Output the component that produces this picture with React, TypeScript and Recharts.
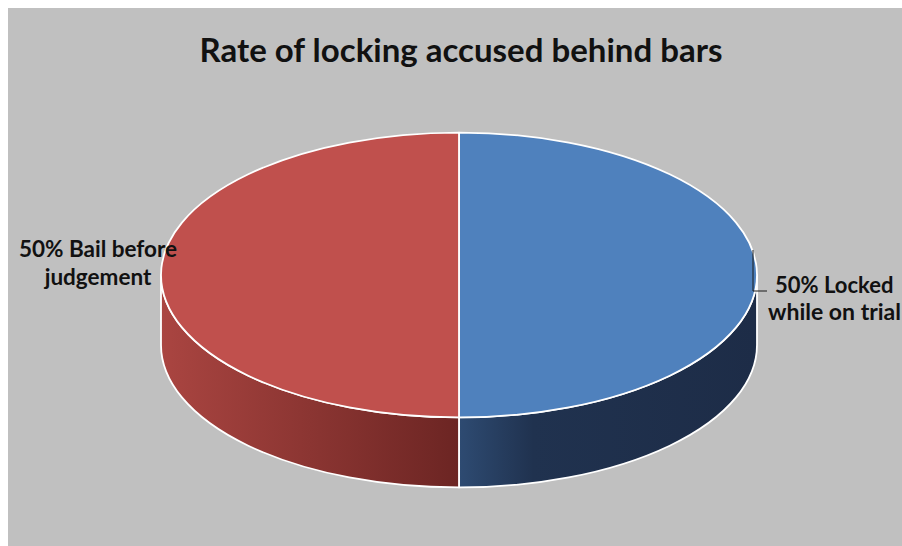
import React from 'react';
import { PieChart, Pie, Cell } from 'recharts';

const categories = ['Locked while on trial', 'Bail before judgement'];
const shares = [50, 50];
const labelLines = [
  ['50% Locked', 'while on trial'],
  ['50% Bail before', 'judgement'],
];
const topColors = ['#4f81bd', '#c0504d'];
const sideGradients = ['url(#blueSide)', 'url(#redSide)'];

const data = categories.map((name, i) => ({ name, value: shares[i], lines: labelLines[i], side: sideGradients[i] }));

const TILT = 0.478; // ry / rx
const DEPTH = 70;
const RAD = Math.PI / 180;

const pt = (cx: number, cy: number, rx: number, ry: number, a: number) => [
  cx + rx * Math.cos(a * RAD),
  cy - ry * Math.sin(a * RAD),
];

// elliptical 3D sector: side wall + top face
const Sector3D = (props: any) => {
  const { cx, cy, outerRadius, startAngle, endAngle, fill, payload } = props;
  const rx = outerRadius;
  const ry = outerRadius * TILT;
  const hiA = Math.max(startAngle, endAngle);
  const loA = Math.min(startAngle, endAngle);

  // front wall is visible for angles in [-180, 0]
  const hi = Math.min(hiA, 0);
  const lo = Math.max(loA, -180);
  let side = null;
  if (hi > lo) {
    const [x1, y1] = pt(cx, cy, rx, ry, hi);
    const [x2, y2] = pt(cx, cy, rx, ry, lo);
    const d = `M${x1},${y1} A${rx},${ry} 0 0 1 ${x2},${y2} L${x2},${y2 + DEPTH} A${rx},${ry} 0 0 0 ${x1},${y1 + DEPTH} Z`;
    side = <path d={d} fill={payload.side} stroke="#fff" strokeWidth={1.8} strokeLinejoin="round" />;
  }

  const [sx, sy] = pt(cx, cy, rx, ry, hiA);
  const [ex, ey] = pt(cx, cy, rx, ry, loA);
  const large = hiA - loA > 180 ? 1 : 0;
  const top = `M${cx},${cy} L${sx},${sy} A${rx},${ry} 0 ${large} 1 ${ex},${ey} Z`;

  return (
    <g>
      {side}
      <path d={top} fill={fill} stroke="#fff" strokeWidth={1.8} strokeLinejoin="round" />
    </g>
  );
};

const renderLabel = (props: any) => {
  const { cx, cy, outerRadius, midAngle, payload } = props;
  const rx = outerRadius;
  const right = Math.cos(midAngle * RAD) > 0;
  const style = { fontFamily: 'Lato, sans-serif', fontWeight: 700, fontSize: 22, fill: '#111' };
  if (right) {
    return (
      <g>
        <polyline
          points={`${cx + rx - 4},${cy - 25} ${cx + rx - 4},${cy + 16} ${cx + rx + 10},${cy + 16}`}
          fill="none"
          stroke="#1a1a1a"
          strokeWidth={1}
        />
        <text x={cx + rx + 18} y={cy + 18} style={style}>{payload.lines[0]}</text>
        <text x={cx + rx + 11} y={cy + 45} style={{ ...style, fontSize: 23 }}>{payload.lines[1]}</text>
      </g>
    );
  }
  const x = cx - rx - 63;
  return (
    <g>
      <text x={x} y={cy - 18} textAnchor="middle" style={{ ...style, fontSize: 22.5 }}>{payload.lines[0]}</text>
      <text x={x} y={cy + 10} textAnchor="middle" style={{ ...style, fontSize: 22.5 }}>{payload.lines[1]}</text>
    </g>
  );
};

export default function App() {
  return (
    <div style={{ position: 'fixed', top: 8, left: 8, right: 0, bottom: 0, background: '#c0c0c0', overflow: 'hidden' }}>
      <div
        style={{
          position: 'absolute',
          top: 21,
          left: 0,
          width: 906,
          textAlign: 'center',
          fontFamily: 'Lato, sans-serif',
          fontWeight: 700,
          fontSize: 33,
          color: '#111',
        }}
      >
        Rate of locking accused behind bars
      </div>
      <PieChart width={894} height={538} margin={{ top: 0, right: 0, bottom: 0, left: 0 }} style={{ position: 'absolute', top: 0, left: 0 }}>
        <defs>
          <linearGradient id="redSide" x1="0" y1="0" x2="1" y2="0">
            <stop offset="0%" stopColor="#aa4541" />
            <stop offset="100%" stopColor="#6c2523" />
          </linearGradient>
          <linearGradient id="blueSide" x1="0" y1="0" x2="1" y2="0">
            <stop offset="0%" stopColor="#2e4b72" />
            <stop offset="25%" stopColor="#20324f" />
            <stop offset="100%" stopColor="#1d2c47" />
          </linearGradient>
        </defs>
        <Pie
          data={data}
          dataKey="value"
          nameKey="name"
          cx={451}
          cy={267}
          outerRadius={298}
          startAngle={90}
          endAngle={-270}
          shape={Sector3D}
          label={renderLabel}
          labelLine={false}
          isAnimationActive={false}
        >
          {data.map((d, i) => (
            <Cell key={d.name} fill={topColors[i]} />
          ))}
        </Pie>
      </PieChart>
    </div>
  );
}
